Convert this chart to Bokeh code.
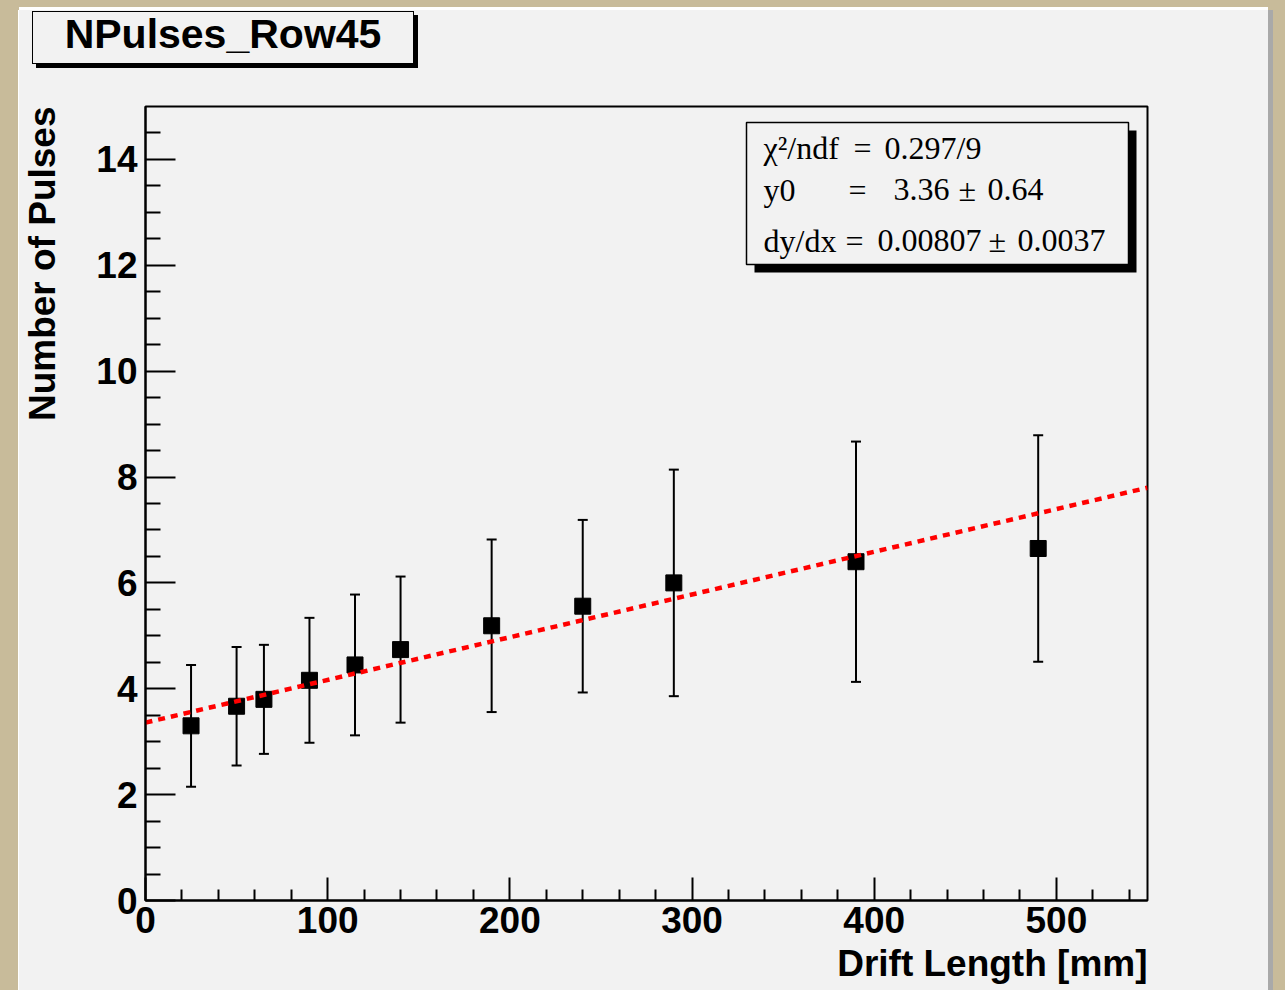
from bokeh.embed import file_html
from bokeh.layouts import column
from bokeh.models import (BoxAnnotation, ColumnDataSource, Div, FixedTicker, Label,
                          Range1d, TeeHead, Title, Whisker)
from bokeh.plotting import figure
from bokeh.resources import INLINE

# ---- measured points: mean number of pulses per drift length ----
drift_mm = [25, 50, 65, 90, 115, 140, 190, 240, 290, 390, 490]
n_pulses = [3.30, 3.67, 3.80, 4.16, 4.45, 4.74, 5.19, 5.56, 6.00, 6.40, 6.65]
n_err = [1.15, 1.12, 1.03, 1.18, 1.33, 1.38, 1.63, 1.63, 2.14, 2.27, 2.14]

# ---- straight-line fit result ----
fit_y0 = 3.36
fit_y0_err = 0.64
fit_slope = 0.00807
fit_slope_err = 0.0037
fit_chi2 = 0.297
fit_ndf = 9

hist_name = "NPulses_Row45"
x_title = "Drift Length [mm]"
y_title = "Number of Pulses"

# ---- axes ----
x_major = [0, 100, 200, 300, 400, 500]
x_minor = [20, 40, 60, 80, 120, 140, 160, 180, 220, 240, 260, 280, 320, 340,
           360, 380, 420, 440, 460, 480, 520, 540]
y_major = [0, 2, 4, 6, 8, 10, 12, 14]
y_minor = [0.5, 1, 1.5, 2.5, 3, 3.5, 4.5, 5, 5.5, 6.5, 7, 7.5, 8.5, 9, 9.5,
           10.5, 11, 11.5, 12.5, 13, 13.5, 14.5]
X_MAX = 550
Y_MAX = 15

CANVAS = "#f2f2f2"
PAGE = "#c8bb9a"

# page geometry (pixels)
CANVAS_X, CANVAS_Y = 19, 10
CANVAS_W, CANVAS_H = 1249, 980
FIG_TOP = 70                      # page row where the figure starts
FRAME_L, FRAME_R, FRAME_T, FRAME_B = 145, 1147, 106, 900


def dx(px):
    """page pixel column -> data x"""
    return (px - FRAME_L) * X_MAX / (FRAME_R - FRAME_L)


def dy(py):
    """page pixel row -> data y"""
    return (FRAME_B - py) * Y_MAX / (FRAME_B - FRAME_T)


fig_h = CANVAS_Y + CANVAS_H - FIG_TOP
p = figure(width=CANVAS_W, height=fig_h,
           x_range=Range1d(0, X_MAX), y_range=Range1d(0, Y_MAX),
           output_backend="svg", toolbar_location=None,
           min_border_left=FRAME_L - CANVAS_X,
           min_border_right=CANVAS_X + CANVAS_W - FRAME_R,
           min_border_top=FRAME_T - FIG_TOP,
           min_border_bottom=CANVAS_Y + CANVAS_H - FRAME_B)
p.background_fill_color = CANVAS
p.border_fill_color = CANVAS
p.outline_line_color = "black"
p.outline_line_width = 2
p.grid.visible = False

p.xaxis.ticker = FixedTicker(ticks=x_major, minor_ticks=x_minor)
p.yaxis.ticker = FixedTicker(ticks=y_major, minor_ticks=y_minor)

for ax in (p.xaxis, p.yaxis):
    ax.axis_line_width = 2
    ax.axis_line_color = "black"
    ax.major_tick_line_width = 2
    ax.minor_tick_line_width = 2
    ax.major_tick_out = 0
    ax.minor_tick_out = 0
    ax.major_label_text_font = "Liberation Sans"
    ax.major_label_text_font_style = "bold"
    ax.major_label_text_font_size = "37px"
    ax.major_label_text_color = "black"
    # blank axis label only used as a gap between tick labels and the title
    ax.axis_label = " "
    ax.axis_label_text_font_size = "1px"

p.xaxis.major_tick_in = 23
p.xaxis.minor_tick_in = 11
p.xaxis.major_label_standoff = 6
p.xaxis.axis_label_standoff = 3
p.yaxis.major_tick_in = 30
p.yaxis.minor_tick_in = 15
p.yaxis.major_label_standoff = 8
p.yaxis.axis_label_standoff = 27

# axis titles, right-aligned to the frame like ROOT does
title_style = dict(text_font="Liberation Sans", text_font_style="bold",
                   text_font_size="37px", text_color="black",
                   align="right", standoff=0, offset=0)
p.add_layout(Title(text=x_title, vertical_align="top", **title_style), "below")
p.add_layout(Title(text=y_title, vertical_align="bottom", **title_style), "left")

# ---- error bars, points and fitted line ----
src = ColumnDataSource(dict(
    x=drift_mm,
    y=n_pulses,
    lo=[v - e for v, e in zip(n_pulses, n_err)],
    hi=[v + e for v, e in zip(n_pulses, n_err)],
))
bars = Whisker(base="x", lower="lo", upper="hi", source=src, dimension="height",
               line_color="black", line_width=2, level="underlay",
               upper_head=TeeHead(size=10, line_width=2, line_color="black"),
               lower_head=TeeHead(size=10, line_width=2, line_color="black"))
p.add_layout(bars)

p.scatter("x", "y", source=src, marker="square", size=16,
          fill_color="black", line_color="black")

fit_x = [0, X_MAX]
fit_y = [fit_y0 + fit_slope * x for x in fit_x]
p.line(fit_x, fit_y, line_color="red", line_width=4.5, line_dash="7 6")

# ---- fit statistics box with drop shadow ----
SB_L, SB_T, SB_R, SB_B, SB_OFF = 746, 122, 1128, 264, 8
p.add_layout(BoxAnnotation(left=dx(SB_L + SB_OFF), right=dx(SB_R + SB_OFF),
                           top=dy(SB_T + SB_OFF), bottom=dy(SB_B + SB_OFF),
                           fill_color="black", fill_alpha=1.0, line_alpha=0.0))
p.add_layout(BoxAnnotation(left=dx(SB_L), right=dx(SB_R), top=dy(SB_T), bottom=dy(SB_B),
                           fill_color=CANVAS, fill_alpha=1.0, line_color="black",
                           line_alpha=1.0, line_width=1.5))

serif = dict(text_font="Liberation Serif", text_font_size="32px",
             text_color="black", text_baseline="alphabetic")
stat_rows = [
    (147, [(763, "\u03c7\u00b2/ndf"), (853, "="), (884, f"{fit_chi2:.3f}/{fit_ndf}")]),
    (189, [(763, "y0"), (848, "="), (893, f"{fit_y0:.2f}"), (958, "\u00b1"),
           (987, f"{fit_y0_err:.2f}")]),
    (240, [(763, "dy/dx"), (845, "="), (877, f"{fit_slope:.5f}"), (988, "\u00b1"),
           (1017, f"{fit_slope_err:.4f}")]),
]
for base, parts in stat_rows:
    for px, txt in parts:
        p.add_layout(Label(x=dx(px), y=dy(base), text=txt, **serif))

# ---- histogram name box (with shadow) above the figure ----
name_box = Div(
    text=hist_name, width=382, height=53, margin=(1, 0, 0, 13),
    styles={
        "box-sizing": "border-box",
        "border": "1.5px solid #000000",
        "box-shadow": "4px 4px 0 0 #000000",
        "background-color": CANVAS,
        "font-family": "Liberation Sans",
        "font-weight": "bold",
        "font-size": "41px",
        "line-height": "44px",
        "text-align": "center",
        "color": "#000000",
    },
)
p.margin = (FIG_TOP - CANVAS_Y - 54, 0, 0, 0)

canvas = column(name_box, p, width=CANVAS_W, height=CANVAS_H,
                margin=(CANVAS_Y, 0, 0, CANVAS_X),
                styles={"background-color": CANVAS,
                        "box-shadow": "5px 0 0 0 #a9a9a9, 0 -3px 0 0 #ffffff, "
                                      "-1px 0 0 0 #ffffff"})

page = column(canvas, width=1285, height=990, styles={"background-color": PAGE})

open("out.html", "w").write(file_html(page, INLINE))
